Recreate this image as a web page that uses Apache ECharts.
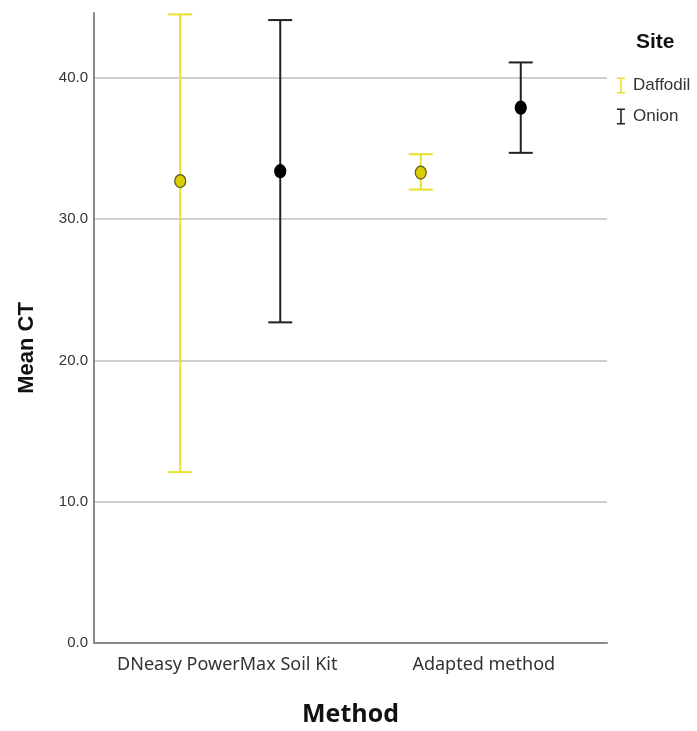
<!DOCTYPE html>
<html>
<head>
<meta charset="utf-8">
<script src="https://cdn.jsdelivr.net/npm/echarts@6/dist/echarts.min.js"></script>
<style>
  html, body { margin: 0; padding: 0; background: #fff; }
  #chart { width: 697px; height: 731px; }
</style>
</head>
<body>
<div id="chart"></div>
<script>
const methods = ['DNeasy PowerMax Soil Kit', 'Adapted method']

const daffodilMean = [32.7, 33.3]
const daffodilLow = [12.1, 32.1]
const daffodilHigh = [44.5, 34.6]

const onionMean = [33.4, 37.9]
const onionLow = [22.7, 34.7]
const onionHigh = [44.1, 41.1]

let chart = echarts.init(document.getElementById('chart'))

// error bar + mean dot, shifted inside each category band
function errorBar(offset, lineColor, dotFill, dotStroke) {
  return (params, api) => {
    let idx = api.value(0)
    let shift = (idx === 0 ? 8 : -8) + offset
    let top = api.coord([idx, api.value(2)])
    let bottom = api.coord([idx, api.value(1)])
    let mid = api.coord([idx, api.value(3)])
    let x = top[0] + shift
    let half = 12
    let line = { stroke: lineColor, lineWidth: 2 }
    return {
      type: 'group',
      children: [
        { type: 'line', shape: { x1: x, y1: top[1], x2: x, y2: bottom[1] }, style: line },
        { type: 'line', shape: { x1: x - half, y1: top[1], x2: x + half, y2: top[1] }, style: line },
        { type: 'line', shape: { x1: x - half, y1: bottom[1], x2: x + half, y2: bottom[1] }, style: line },
        { type: 'ellipse', shape: { cx: x, cy: mid[1], rx: 5.5, ry: 6.5 },
          style: { fill: dotFill, stroke: dotStroke, lineWidth: 1.2 } }
      ]
    }
  }
}

let toData = (low, high, mean) => methods.map((m, i) => [i, low[i], high[i], mean[i]])

const iconI = 'path://M0,0H8V1.6H4.8V14.4H8V16H0V14.4H3.2V1.6H0Z'

chart.setOption({
  animation: false,
  title: {
    text: 'Site',
    left: 631,
    top: 27,
    textStyle: { fontFamily: 'Liberation Sans', fontWeight: 'bold', fontSize: 21, color: '#111' }
  },
  legend: {
    orient: 'vertical',
    left: 612,
    top: 72,
    itemGap: 14,
    itemWidth: 8,
    itemHeight: 16,
    icon: iconI,
    textStyle: { fontFamily: 'Liberation Sans', fontSize: 17, color: '#333', padding: [0, 0, 0, 3] },
    data: ['Daffodil', 'Onion']
  },
  grid: { left: 94, right: 90, top: 13, bottom: 88, outerBoundsMode: 'none' },
  xAxis: {
    type: 'category',
    data: methods,
    name: 'Method',
    nameLocation: 'middle',
    nameGap: 59,
    nameTextStyle: { fontFamily: 'Open Sans', fontWeight: 'bold', fontSize: 25, color: '#111' },
    axisLine: { lineStyle: { color: '#8a8a8a', width: 2 } },
    axisTick: { show: false },
    axisLabel: { interval: 0, fontFamily: 'Noto Sans', fontSize: 18, color: '#333', margin: 13, padding: [0, 0, 0, 10] }
  },
  yAxis: {
    type: 'value',
    min: 0,
    max: 44.6,
    interval: 10,
    name: 'Mean CT',
    nameLocation: 'middle',
    nameGap: 56,
    nameTextStyle: { fontFamily: 'Liberation Sans', fontWeight: 'bold', fontSize: 22, color: '#111', padding: [0, 40, 0, 0] },
    axisLine: { show: true, lineStyle: { color: '#8a8a8a', width: 2 } },
    axisTick: { show: false },
    axisLabel: {
      fontFamily: 'Liberation Sans',
      fontSize: 15,
      color: '#333',
      margin: 6,
      showMaxLabel: false,
      formatter: v => v.toFixed(1)
    },
    splitLine: { showMinLine: false, showMaxLine: false, lineStyle: { color: '#cfcfcf', width: 2 } }
  },
  series: [
    {
      name: 'Daffodil',
      type: 'custom',
      itemStyle: { color: '#e6e12c' },
      renderItem: errorBar(-50, '#e6e12c', '#dccd00', '#5a5a20'),
      encode: { x: 0, y: [1, 2, 3] },
      data: toData(daffodilLow, daffodilHigh, daffodilMean)
    },
    {
      name: 'Onion',
      type: 'custom',
      itemStyle: { color: '#222' },
      renderItem: errorBar(50, '#222', '#000', '#000'),
      encode: { x: 0, y: [1, 2, 3] },
      data: toData(onionLow, onionHigh, onionMean)
    }
  ]
})
</script>
</body>
</html>
